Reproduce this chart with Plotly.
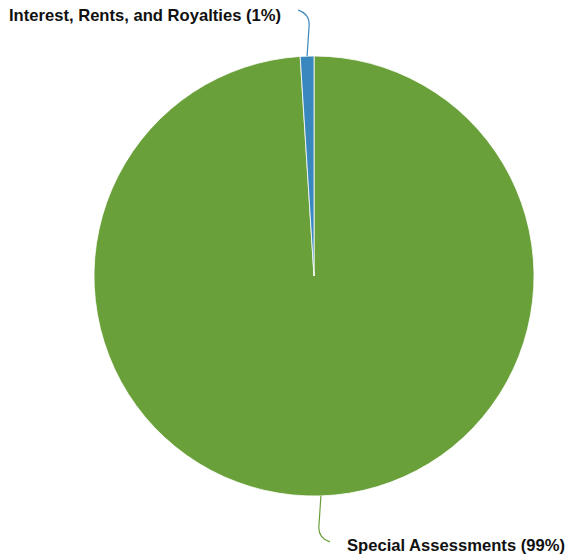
import math
import plotly.graph_objects as go

# Revenue sources and their shares
labels = ["Special Assessments", "Interest, Rents, and Royalties"]
values = [99, 1]
colors = ["#6aa03a", "#3a87bd"]

W, H = 566, 559
# Pie placement in pixels (square domain)
cx, cy, R = 314, 276, 220
ml, mt = cx - R, cy - R
mr, mb = W - (cx + R), H - (cy + R)


def to_paper(px, py):
    return (px - ml) / (2 * R), ((cy + R) - py) / (2 * R)


fig = go.Figure(
    go.Pie(
        labels=labels,
        values=values,
        marker=dict(colors=colors, line=dict(color="white", width=0.8)),
        sort=False,
        direction="clockwise",
        rotation=0,
        textinfo="none",
        hoverinfo="label+percent",
        showlegend=False,
    )
)

total = sum(values)
shapes, annotations = [], []
start = 0.0
for lab, val, col in zip(labels, values, colors):
    frac = val / total
    mid = (start + frac / 2) * 2 * math.pi  # clockwise from 12 o'clock
    start += frac
    sx = cx + R * math.sin(mid)
    sy = cy - R * math.cos(mid)
    up = math.cos(mid) > 0
    side = -1 if math.sin(mid) < 0 else 1
    vdir = -1 if up else 1
    # leader line: straight out, then a short curve sideways
    p0 = (sx, sy)
    p1 = (sx - side * 2, sy + vdir * 30)
    p2 = (sx - side * 3, sy + vdir * 42)
    p3 = (sx + side * 9, sy + vdir * 46)
    pts = [to_paper(*p) for p in (p0, p1, p2, p3)]
    path = "M {:.5f},{:.5f} L {:.5f},{:.5f} Q {:.5f},{:.5f} {:.5f},{:.5f}".format(
        pts[0][0], pts[0][1], pts[1][0], pts[1][1], pts[2][0], pts[2][1], pts[3][0], pts[3][1]
    )
    shapes.append(dict(type="path", path=path, xref="paper", yref="paper",
                       line=dict(color=col, width=1.2)))
    tx, ty = to_paper(p3[0] + side * 15, p3[1] + (5 if up else 4))
    annotations.append(dict(
        x=tx, y=ty, xref="paper", yref="paper",
        text="<b>{} ({}%)</b>".format(lab, round(frac * 100)),
        showarrow=False,
        xanchor="right" if side < 0 else "left",
        yanchor="middle",
        font=dict(family="Liberation Sans, Arial, sans-serif", size=16.6, color="#111111"),
    ))

fig.update_layout(
    width=W,
    height=H,
    margin=dict(l=ml, r=mr, t=mt, b=mb, pad=0),
    paper_bgcolor="white",
    plot_bgcolor="white",
    shapes=shapes,
    annotations=annotations,
)

fig.write_html("out.html")
